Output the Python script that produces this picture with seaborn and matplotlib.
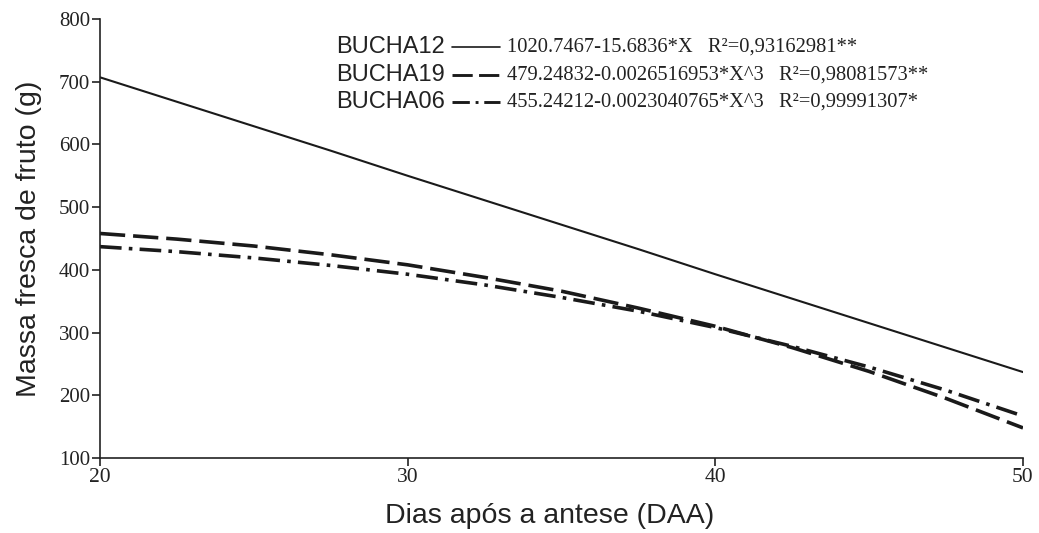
import matplotlib
matplotlib.use("Agg")
import matplotlib.pyplot as plt
import seaborn as sns
import pandas as pd
from matplotlib.lines import Line2D

# Data (days after anthesis vs fresh fruit mass, g)
days = [20, 22.5, 25, 27.5, 30, 32.5, 35, 37.5, 40, 42.5, 45, 47.5, 50]
bucha12 = [707, 668, 629, 590, 550, 511, 472, 433, 393, 354, 315, 276, 237]
bucha19 = [458, 449, 438, 424, 408, 388, 366, 339, 310, 276, 238, 195, 148]
bucha06 = [437, 429, 419, 407, 393, 376, 356, 334, 308, 278, 245, 208, 167]

series_names = ["BUCHA12", "BUCHA19", "BUCHA06"]
equations = [
    "1020.7467-15.6836*X   R²=0,93162981**",
    "479.24832-0.0026516953*X^3   R²=0,98081573**",
    "455.24212-0.0023040765*X^3   R²=0,99991307*",
]
x_ticks = [20, 30, 40, 50]
y_ticks = [100, 200, 300, 400, 500, 600, 700, 800]

df = pd.DataFrame({
    "days": days * 3,
    "mass": bucha12 + bucha19 + bucha06,
    "serie": sum([[n] * len(days) for n in series_names], []),
})

sns.set_style("ticks")
serif = ["Liberation Serif", "DejaVu Serif"]
sans = ["Liberation Sans", "DejaVu Sans"]

fig = plt.figure(figsize=(10.39, 5.33), dpi=100)
ax = fig.add_axes([0.0962, 0.1407, 0.9846 - 0.0962, 0.9644 - 0.1407])

styles = {
    "BUCHA12": dict(ls="-", lw=1.5),
    "BUCHA19": dict(ls=(0, (7, 2.2)), lw=2.6),
    "BUCHA06": dict(ls=(0, (6, 2, 1, 2)), lw=2.6),
}
for name in series_names:
    sub = df[df["serie"] == name]
    sns.lineplot(data=sub, x="days", y="mass", ax=ax, color="#1a1a1a",
                 linestyle=styles[name]["ls"], linewidth=styles[name]["lw"],
                 legend=False)

ax.set_xlim(20, 50)
ax.set_ylim(100, 800)
ax.set_xticks(x_ticks)
ax.set_yticks(y_ticks)
ax.set_xticklabels([str(t) for t in x_ticks], fontfamily=serif, fontsize=15.5)
ax.set_yticklabels([str(t) for t in y_ticks], fontfamily=serif, fontsize=15)
ax.tick_params(direction="out", length=6, width=1.2, color="#222222", pad=1,
               labelcolor="#222222")
for s in ["top", "right"]:
    ax.spines[s].set_visible(False)
for s in ["left", "bottom"]:
    ax.spines[s].set_linewidth(1.2)
    ax.spines[s].set_color("#222222")

ax.set_xlabel("Dias após a antese (DAA)", fontfamily=sans, fontsize=20.5,
              color="#222222")
ax.set_ylabel("Massa fresca de fruto (g)", fontfamily=sans, fontsize=20.5,
              color="#222222", labelpad=12)
ax.xaxis.set_label_coords(0.4875, -0.102)

# manual legend
W, H = 1039, 533
rows_y = [47, 75, 102]
for i, name in enumerate(series_names):
    yf = 1 - rows_y[i] / H
    fig.text(445 / W, yf, name, ha="right", va="center", fontfamily=sans,
             fontsize=17, color="#222222")
    fig.add_artist(Line2D([452 / W, 500 / W], [yf, yf], transform=fig.transFigure,
                          color="#1a1a1a", linestyle=styles[name]["ls"],
                          linewidth=styles[name]["lw"] * 0.8))
    fig.text(507 / W, yf, equations[i], ha="left", va="center", fontfamily=serif,
             fontsize=14.8, color="#222222")

fig.savefig("out.png", dpi=100)
